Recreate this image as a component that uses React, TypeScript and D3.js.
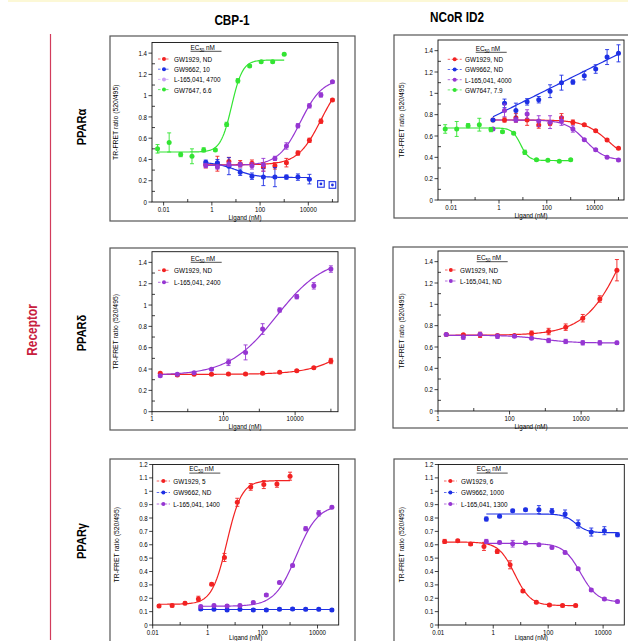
import * as d3 from 'd3';

const RED = '#f22222';
const BLUE = '#1e30e4';
const PURPLE = '#9636d2';
const LILAC = '#c89cf4';
const GREEN = '#33e433';
const FONT = '"Liberation Sans", Arial, Helvetica, sans-serif';

// ligand concentrations (nM), 3-fold dilutions as plotted
const concAlphaGW7647 = [0.0056, 0.017, 0.051, 0.15, 0.46, 1.4, 4.1, 12, 37, 111, 333, 1000];
const concAlpha = [0.56, 1.7, 5.1, 15, 46, 137, 412, 1235, 3704, 11111, 33333, 100000];
const concDelta = [1.7, 5.1, 15, 46, 137, 412, 1235, 3704, 11111, 33333, 100000];
const concGammaGW1929 = [0.017, 0.051, 0.15, 0.46, 1.4, 4.1, 12, 37, 111, 333, 1000];
const concGamma = [0.56, 1.7, 5.1, 15, 46, 137, 412, 1235, 3704, 11111, 33333];

// CBP-1 / PPARalpha
const cbpAlphaGW1929 = [0.35, 0.36, 0.38, 0.36, 0.365, 0.33, 0.34, 0.37, 0.46, 0.58, 0.76, 0.96];
const cbpAlphaGW1929Err = [0.03, 0.07, 0.04, 0.03, 0.03, 0.04, 0.03, 0.04, 0.02, 0.02, 0.02, 0.01];
const cbpAlphaGW9662 = [0.374, 0.37, 0.337, 0.28, 0.243, 0.234, 0.234, 0.234, 0.234, 0.215, 0.17, 0.16];
const cbpAlphaGW9662Err = [0.02, 0.03, 0.08, 0.03, 0.03, 0.08, 0.09, 0.02, 0.03, 0.045, 0.01, 0.01];
const cbpAlphaGW9662Excluded = [false, false, false, false, false, false, false, false, false, false, true, true];
const cbpAlphaL165 = [0.343, 0.33, 0.355, 0.35, 0.34, 0.35, 0.41, 0.527, 0.717, 0.904, 1.007, 1.13];
const cbpAlphaL165Err = [0.02, 0.02, 0.02, 0.02, 0.03, 0.06, 0.02, 0.03, 0.02, 0.02, 0.02, 0.01];
const cbpAlphaGW7647 = [0.5, 0.56, 0.446, 0.43, 0.49, 0.49, 0.73, 1.14, 1.28, 1.32, 1.32, 1.39];
const cbpAlphaGW7647Err = [0.04, 0.09, 0.02, 0.07, 0.02, 0.01, 0.02, 0.02, 0.01, 0.01, 0.01, 0.01];

// NCoR ID2 / PPARalpha
const ncorAlphaGW1929 = [0.75, 0.75, 0.77, 0.75, 0.703, 0.72, 0.77, 0.73, 0.706, 0.65, 0.5625, 0.484];
const ncorAlphaGW1929Err = [0.01, 0.02, 0.04, 0.05, 0.03, 0.02, 0.04, 0.02, 0.01, 0.01, 0.01, 0.01];
const ncorAlphaGW9662 = [0.75, 0.906, 0.838, 0.92, 0.94, 1.02, 1.1, 1.106, 1.166, 1.228, 1.34, 1.375];
const ncorAlphaGW9662Err = [0.01, 0.04, 0.07, 0.03, 0.03, 0.06, 0.07, 0.02, 0.04, 0.04, 0.07, 0.08];
const ncorAlphaL165 = [0.665, 0.84, 0.75, 0.806, 0.74, 0.73, 0.74, 0.666, 0.566, 0.47, 0.4, 0.375];
const ncorAlphaL165Err = [0.01, 0.06, 0.02, 0.04, 0.05, 0.06, 0.04, 0.03, 0.01, 0.01, 0.01, 0.01];
const ncorAlphaGW7647 = [0.666, 0.666, 0.697, 0.706, 0.66, 0.64, 0.625, 0.447, 0.378, 0.372, 0.3625, 0.378];
const ncorAlphaGW7647Err = [0.04, 0.07, 0.02, 0.06, 0.02, 0.01, 0.01, 0.02, 0.01, 0.01, 0.01, 0.01];

// CBP-1 / PPARdelta
const cbpDeltaGW1929 = [0.36, 0.344, 0.35, 0.35, 0.353, 0.353, 0.36, 0.369, 0.384, 0.4125, 0.475];
const cbpDeltaGW1929Err = [0.01, 0.01, 0.01, 0.01, 0.01, 0.01, 0.01, 0.01, 0.01, 0.01, 0.025];
const cbpDeltaL165 = [0.3375, 0.35, 0.366, 0.397, 0.4625, 0.556, 0.775, 0.953, 1.078, 1.18, 1.3375];
const cbpDeltaL165Err = [0.01, 0.01, 0.01, 0.01, 0.03, 0.07, 0.05, 0.02, 0.02, 0.03, 0.03];

// NCoR ID2 / PPARdelta
const ncorDeltaGW1929 = [0.717, 0.714, 0.714, 0.708, 0.708, 0.73, 0.745, 0.786, 0.87, 1.05, 1.32];
const ncorDeltaGW1929Err = [0.01, 0.01, 0.025, 0.01, 0.01, 0.02, 0.03, 0.03, 0.035, 0.03, 0.1];
const ncorDeltaL165 = [0.717, 0.692, 0.72, 0.7, 0.7, 0.683, 0.661, 0.652, 0.639, 0.639, 0.639];
const ncorDeltaL165Err = [0.01, 0.02, 0.01, 0.02, 0.01, 0.01, 0.02, 0.02, 0.02, 0.02, 0.015];

// CBP-1 / PPARgamma
const cbpGammaGW1929 = [0.1425, 0.145, 0.1625, 0.195, 0.305, 0.505, 0.9175, 1.0325, 1.05, 1.055, 1.1125];
const cbpGammaGW1929Err = [0.01, 0.01, 0.01, 0.02, 0.01, 0.03, 0.03, 0.025, 0.03, 0.025, 0.03];
const cbpGammaGW9662 = [0.12, 0.118, 0.113, 0.117, 0.113, 0.113, 0.118, 0.12, 0.117, 0.117, 0.113];
const cbpGammaGW9662Err = [0.01, 0.01, 0.01, 0.01, 0.01, 0.01, 0.01, 0.01, 0.01, 0.01, 0.01];
const cbpGammaL165 = [0.1375, 0.145, 0.1425, 0.145, 0.1675, 0.225, 0.3175, 0.445, 0.72, 0.835, 0.88];
const cbpGammaL165Err = [0.01, 0.01, 0.01, 0.01, 0.01, 0.01, 0.01, 0.01, 0.015, 0.02, 0.01];

// NCoR ID2 / PPARgamma
const ncorGammaGW1929 = [0.625, 0.63, 0.605, 0.5875, 0.55, 0.45, 0.255, 0.17, 0.15, 0.145, 0.145];
const ncorGammaGW1929Err = [0.015, 0.01, 0.01, 0.03, 0.015, 0.03, 0.01, 0.01, 0.01, 0.01, 0.01];
const ncorGammaGW9662 = [0.7925, 0.8125, 0.855, 0.8625, 0.8625, 0.85, 0.83, 0.755, 0.695, 0.705, 0.675];
const ncorGammaGW9662Err = [0.015, 0.01, 0.01, 0.01, 0.03, 0.02, 0.03, 0.03, 0.03, 0.03, 0.015];
const ncorGammaL165 = [0.625, 0.6175, 0.6075, 0.6125, 0.6, 0.58, 0.5425, 0.42, 0.2625, 0.195, 0.175];
const ncorGammaL165Err = [0.015, 0.01, 0.025, 0.01, 0.01, 0.01, 0.01, 0.01, 0.01, 0.01, 0.01];

// fitted dose-response curves: lo/hi plateaus, EC50 (nM), Hill slope; or a,b of a log-linear fit
type Fit = { lo: number; hi: number; ec50: number; hill: number } | { a: number; b: number };

const xTicksWide = [0.01, 1, 100, 10000];
const xMinorWide = [0.001, 0.1, 10, 1000, 100000];
const xTicksDelta = [1, 100, 10000];
const xMinorDelta = [10, 1000, 100000];

type Series = {
  label: string;
  color: string;
  legendColor?: string;
  conc: number[];
  values: number[];
  err: number[];
  excluded?: boolean[];
  fit: Fit;
};

type PanelCfg = {
  frame: [number, number, number, number];
  plot: [number, number, number, number];
  xDomain: [number, number];
  yMax: number;
  yMajor: number;
  yMinor: number;
  xTicks: number[];
  xMinor: number[];
  legend: { hx: number; hy: number; y0: number; dy: number; m0: number; m1: number; tx: number };
  series: Series[];
};

const panels: PanelCfg[] = [
  {
    frame: [110, 36, 245, 185],
    plot: [152, 42.5, 186, 159.5],
    xDomain: [0.0033, 170000],
    yMax: 1.5, yMajor: 8, yMinor: 15,
    xTicks: xTicksWide, xMinor: xMinorWide,
    legend: { hx: 38.5, hy: 7, y0: 16.5, dy: 10.2, m0: 6, m1: 18, tx: 22 },
    series: [
      { label: 'GW1929, ND', color: RED, conc: concAlpha, values: cbpAlphaGW1929, err: cbpAlphaGW1929Err, fit: { lo: 0.35, hi: 1.2, ec50: 34000, hill: 0.9 } },
      { label: 'GW9662, 10', color: BLUE, conc: concAlpha, values: cbpAlphaGW9662, err: cbpAlphaGW9662Err, excluded: cbpAlphaGW9662Excluded, fit: { lo: 0.375, hi: 0.23, ec50: 10, hill: 1 } },
      { label: 'L-165,041, 4700', color: PURPLE, legendColor: LILAC, conc: concAlpha, values: cbpAlphaL165, err: cbpAlphaL165Err, fit: { lo: 0.345, hi: 1.16, ec50: 4700, hill: 0.95 } },
      { label: 'GW7647, 6.6', color: GREEN, conc: concAlphaGW7647, values: cbpAlphaGW7647, err: cbpAlphaGW7647Err, fit: { lo: 0.47, hi: 1.335, ec50: 6.6, hill: 1.9 } },
    ],
  },
  {
    frame: [394, 35, 260, 183],
    plot: [438, 40, 186, 160],
    xDomain: [0.0028, 170000],
    yMax: 1.5, yMajor: 8, yMinor: 15,
    xTicks: xTicksWide, xMinor: xMinorWide,
    legend: { hx: 37.7, hy: 10.5, y0: 19.3, dy: 10.2, m0: 9.7, m1: 23.7, tx: 27 },
    series: [
      { label: 'GW1929, ND', color: RED, conc: concAlpha, values: ncorAlphaGW1929, err: ncorAlphaGW1929Err, fit: { lo: 0.75, hi: 0.35, ec50: 38000, hill: 0.85 } },
      { label: 'GW9662, ND', color: BLUE, conc: concAlpha, values: ncorAlphaGW9662, err: ncorAlphaGW9662Err, fit: { a: 0.808, b: 0.112 } },
      { label: 'L-165,041, 4000', color: PURPLE, conc: concAlpha, values: ncorAlphaL165, err: ncorAlphaL165Err, fit: { lo: 0.75, hi: 0.37, ec50: 4000, hill: 1.05 } },
      { label: 'GW7647, 7.9', color: GREEN, conc: concAlphaGW7647, values: ncorAlphaGW7647, err: ncorAlphaGW7647Err, fit: { lo: 0.675, hi: 0.37, ec50: 7.9, hill: 2.5 } },
    ],
  },
  {
    frame: [110, 248, 245, 182],
    plot: [152, 251.7, 186, 160],
    xDomain: [1, 158000],
    yMax: 1.5, yMajor: 8, yMinor: 15,
    xTicks: xTicksDelta, xMinor: xMinorDelta,
    legend: { hx: 38.7, hy: 8.8, y0: 18.6, dy: 12, m0: 6, m1: 18, tx: 22 },
    series: [
      { label: 'GW1929, ND', color: RED, conc: concDelta, values: cbpDeltaGW1929, err: cbpDeltaGW1929Err, fit: { lo: 0.35, hi: 1.2, ec50: 1240000, hill: 0.7 } },
      { label: 'L-165,041, 2400', color: PURPLE, conc: concDelta, values: cbpDeltaL165, err: cbpDeltaL165Err, fit: { lo: 0.34, hi: 1.45, ec50: 3000, hill: 0.65 } },
    ],
  },
  {
    frame: [393, 247, 260, 181],
    plot: [438, 251, 186, 160],
    xDomain: [1, 158000],
    yMax: 1.5, yMajor: 8, yMinor: 15,
    xTicks: xTicksDelta, xMinor: xMinorDelta,
    legend: { hx: 38.7, hy: 8.9, y0: 19, dy: 11, m0: 7, m1: 18.7, tx: 22 },
    series: [
      { label: 'GW1929, ND', color: RED, conc: concDelta, values: ncorDeltaGW1929, err: ncorDeltaGW1929Err, fit: { lo: 0.71, hi: 2.5, ec50: 240000, hill: 0.75 } },
      { label: 'L-165,041, ND', color: PURPLE, conc: concDelta, values: ncorDeltaL165, err: ncorDeltaL165Err, fit: { lo: 0.71, hi: 0.638, ec50: 800, hill: 1 } },
    ],
  },
  {
    frame: [110, 459, 245, 200],
    plot: [152.7, 464.5, 186, 160.5],
    xDomain: [0.01, 59000],
    yMax: 1.2, yMajor: 12, yMinor: 12,
    xTicks: xTicksWide, xMinor: xMinorWide,
    legend: { hx: 36.6, hy: 6.8, y0: 16.5, dy: 11.5, m0: 4, m1: 17.3, tx: 20.6 },
    series: [
      { label: 'GW1929, 5', color: RED, conc: concGammaGW1929, values: cbpGammaGW1929, err: cbpGammaGW1929Err, fit: { lo: 0.155, hi: 1.08, ec50: 5, hill: 1.6 } },
      { label: 'GW9662, ND', color: BLUE, conc: concGamma, values: cbpGammaGW9662, err: cbpGammaGW9662Err, fit: { a: 0.116, b: 0 } },
      { label: 'L-165,041, 1400', color: PURPLE, conc: concGamma, values: cbpGammaL165, err: cbpGammaL165Err, fit: { lo: 0.14, hi: 0.9, ec50: 1700, hill: 1.1 } },
    ],
  },
  {
    frame: [394, 459, 260, 200],
    plot: [438.3, 464.5, 186, 160.5],
    xDomain: [0.01, 59000],
    yMax: 1.2, yMajor: 12, yMinor: 12,
    xTicks: xTicksWide, xMinor: xMinorWide,
    legend: { hx: 38.4, hy: 6.8, y0: 16.5, dy: 11.5, m0: 5.7, m1: 18.4, tx: 22.7 },
    series: [
      { label: 'GW1929, 6', color: RED, conc: concGammaGW1929, values: ncorGammaGW1929, err: ncorGammaGW1929Err, fit: { lo: 0.62, hi: 0.145, ec50: 6, hill: 1.5 } },
      { label: 'GW9662, 1000', color: BLUE, conc: concGamma, values: ncorGammaGW9662, err: ncorGammaGW9662Err, fit: { lo: 0.83, hi: 0.69, ec50: 1000, hill: 2 } },
      { label: 'L-165,041, 1300', color: PURPLE, conc: concGamma, values: ncorGammaL165, err: ncorGammaL165Err, fit: { lo: 0.61, hi: 0.17, ec50: 1500, hill: 1.4 } },
    ],
  },
];

const columnTitles = [
  { text: 'CBP-1', x: 232, y: 25 },
  { text: 'NCoR ID2', x: 457, y: 22 },
];
const rowTitles = [
  { text: 'PPARα', y: 127 },
  { text: 'PPARδ', y: 333 },
  { text: 'PPARγ', y: 541 },
];

function fitY(f: Fit, c: number) {
  if ('a' in f) return f.a + f.b * Math.log10(c);
  return f.lo + (f.hi - f.lo) / (1 + Math.pow(f.ec50 / c, f.hill));
}

function Txt({ x, y, sx = 0.8, rotate = 0, anchor = 'start', size = 8, weight = 'normal', fill = '#000', children }: any) {
  return (
    <text
      transform={`translate(${x},${y}) rotate(${rotate}) scale(${sx},1)`}
      textAnchor={anchor}
      fontSize={size}
      fontWeight={weight}
      fill={fill}
      fontFamily={FONT}
    >
      {children}
    </text>
  );
}

function Panel({ cfg }: { cfg: PanelCfg }) {
  const [px, py, pw, ph] = cfg.plot;
  const x = d3.scaleLog().domain(cfg.xDomain).range([px, px + pw]);
  const y = d3.scaleLinear().domain([0, cfg.yMax]).range([py + ph, py]);
  const bottom = py + ph;
  const fmt = d3.format('~g');
  const yMajor = y.ticks(cfg.yMajor);
  const yMinor = y.ticks(cfg.yMinor).filter((t) => t < cfg.yMax && !yMajor.some((m) => Math.abs(m - t) < 1e-9));
  const xMinor = cfg.xMinor.filter((t) => t >= cfg.xDomain[0] && t <= cfg.xDomain[1]);
  const lg = cfg.legend;

  const curve = (s: Series) => {
    const used = s.conc.filter((_, i) => !(s.excluded && s.excluded[i]));
    const l0 = Math.log10(used[0]);
    const l1 = Math.log10(used[used.length - 1]);
    const cs = d3.range(0, 121).map((i) => Math.pow(10, l0 + ((l1 - l0) * i) / 120));
    return d3
      .line<number>()
      .x((c) => x(c))
      .y((c) => y(fitY(s.fit, c)))(cs) as string;
  };

  return (
    <g>
      <rect x={cfg.frame[0]} y={cfg.frame[1]} width={cfg.frame[2]} height={cfg.frame[3]} fill="none" stroke="#555" strokeWidth={1.2} />
      <rect x={px} y={py} width={pw} height={ph} fill="none" stroke="#111" strokeWidth={0.9} />
      {yMajor.map((t) => (
        <g key={'ym' + t}>
          <line x1={px - 3.5} x2={px} y1={y(t)} y2={y(t)} stroke="#111" strokeWidth={0.8} />
          <Txt x={px - 5} y={y(t) + 2.6} anchor="end" size={7.2} sx={0.85}>
            {fmt(t)}
          </Txt>
        </g>
      ))}
      {yMinor.map((t) => (
        <line key={'yn' + t} x1={px} x2={px + 3} y1={y(t)} y2={y(t)} stroke="#111" strokeWidth={0.8} />
      ))}
      {cfg.xTicks.map((t) => (
        <g key={'xm' + t}>
          <line x1={x(t)} x2={x(t)} y1={bottom} y2={bottom + 3.5} stroke="#111" strokeWidth={0.8} />
          <Txt x={x(t)} y={bottom + 9.5} anchor="middle" size={7.2} sx={0.85}>
            {fmt(t)}
          </Txt>
        </g>
      ))}
      {xMinor.map((t) => (
        <line key={'xn' + t} x1={x(t)} x2={x(t)} y1={bottom} y2={bottom - 3} stroke="#111" strokeWidth={0.8} />
      ))}
      <Txt x={px + pw / 2} y={Math.min(bottom + 17.5, 639.5)} anchor="middle" size={8} sx={0.78}>
        Ligand (nM)
      </Txt>
      <Txt x={px - 34} y={py + ph / 2} rotate={-90} anchor="middle" size={7.2} sx={0.95}>
        TR-FRET ratio (520/495)
      </Txt>

      {cfg.series.map((s) => (
        <path key={'c' + s.label} d={curve(s)} fill="none" stroke={s.color} strokeWidth={1.2} />
      ))}
      {cfg.series.map((s) => (
        <g key={'p' + s.label}>
          {s.values.map((v, i) => {
            const cx = x(s.conc[i]);
            const e = s.err[i];
            const ex = s.excluded && s.excluded[i];
            return (
              <g key={i}>
                <line x1={cx} x2={cx} y1={y(v - e)} y2={y(v + e)} stroke={s.color} strokeWidth={0.9} />
                <line x1={cx - 2} x2={cx + 2} y1={y(v - e)} y2={y(v - e)} stroke={s.color} strokeWidth={0.9} />
                <line x1={cx - 2} x2={cx + 2} y1={y(v + e)} y2={y(v + e)} stroke={s.color} strokeWidth={0.9} />
                {ex ? (
                  <g>
                    <rect x={cx - 3.3} y={y(v) - 3.3} width={6.6} height={6.6} fill="#fff" stroke={s.color} strokeWidth={1.1} />
                    <circle cx={cx} cy={y(v)} r={1.4} fill={s.color} />
                  </g>
                ) : (
                  <circle cx={cx} cy={y(v)} r={2.5} fill={s.color} />
                )}
              </g>
            );
          })}
        </g>
      ))}

      <g>
        <Txt x={px + lg.hx} y={py + lg.hy} size={8} sx={0.8}>
          EC
          <tspan fontSize={5.5} dy={2}>50</tspan>
          <tspan dy={-2}> nM</tspan>
        </Txt>
        <line x1={px + lg.hx} x2={px + lg.hx + 31} y1={py + lg.hy + 1.8} y2={py + lg.hy + 1.8} stroke="#000" strokeWidth={0.7} />
        {cfg.series.map((s, i) => {
          const ly = py + lg.y0 + i * lg.dy;
          const c = s.legendColor || s.color;
          return (
            <g key={'l' + s.label}>
              <line x1={px + lg.m0} x2={px + lg.m1} y1={ly} y2={ly} stroke={c} strokeWidth={1} strokeDasharray="2.5,1.5" opacity={0.7} />
              <circle cx={px + (lg.m0 + lg.m1) / 2} cy={ly} r={2} fill={c} />
              <Txt x={px + lg.tx} y={ly + 2.9} size={8} sx={0.8}>
                {s.label}
              </Txt>
            </g>
          );
        })}
      </g>
    </g>
  );
}

export default function App() {
  return (
    <svg width={628} height={641} style={{ position: 'absolute', left: 0, top: 0, background: '#fff' }}>
      <rect x={0} y={0} width={628} height={641} fill="#fff" />
      <rect x={8} y={0} width={620} height={2} fill="#fcf8d6" />
      {columnTitles.map((c) => (
        <Txt key={c.text} x={c.x} y={c.y} anchor="middle" size={14} weight="bold" sx={0.84}>
          {c.text}
        </Txt>
      ))}
      <line x1={50.5} x2={50.5} y1={34} y2={640} stroke="#d23c5c" strokeWidth={1.2} />
      <Txt x={37} y={330} rotate={-90} anchor="middle" size={14} weight="bold" sx={0.85} fill="#c8203e">
        Receptor
      </Txt>
      {rowTitles.map((r) => (
        <Txt key={r.text} x={86} y={r.y} rotate={-90} anchor="middle" size={13} weight="bold" sx={0.85}>
          {r.text}
        </Txt>
      ))}
      {panels.map((p, i) => (
        <Panel key={i} cfg={p} />
      ))}
    </svg>
  );
}
